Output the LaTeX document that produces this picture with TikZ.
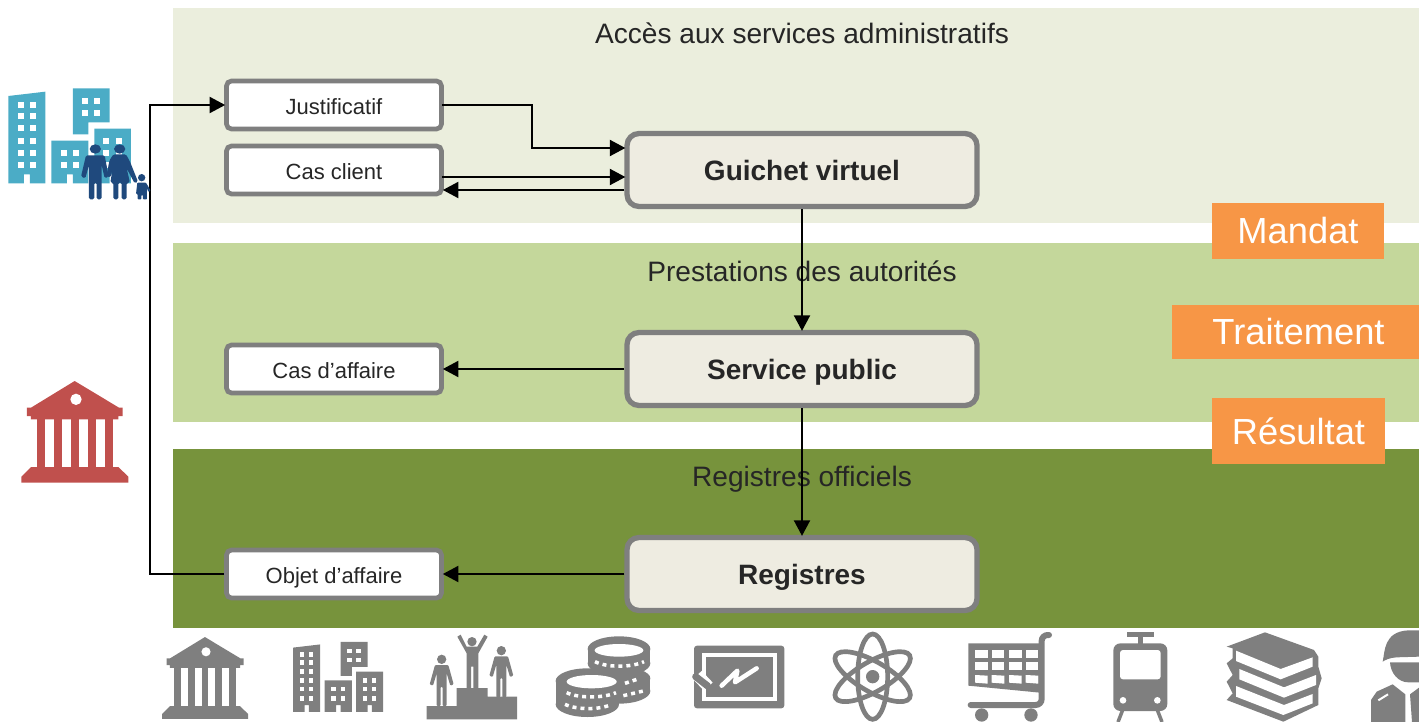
\documentclass[tikz,border=0pt]{standalone}
\usepackage{fontspec}
\setmainfont{Liberation Sans}
\usetikzlibrary{arrows.meta}
\definecolor{bandA}{HTML}{EBEEDD}
\definecolor{bandB}{HTML}{C4D79B}
\definecolor{bandC}{HTML}{77933C}
\definecolor{boxfill}{HTML}{EEECE1}
\definecolor{boxline}{HTML}{7F7F7F}
\definecolor{tagfill}{HTML}{F79646}
\definecolor{txt}{HTML}{262626}
\definecolor{iconblue}{HTML}{4BACC6}
\definecolor{iconnavy}{HTML}{1F497D}
\definecolor{iconred}{HTML}{C0504D}
\definecolor{icongray}{HTML}{7F7F7F}
\tikzset{
band/.style={fill=#1,draw=none},
smallbox/.style={
    draw=boxline, fill=white, line width=4.7pt, rounded corners=5pt,
    minimum width=215pt, minimum height=48pt, text=txt, text height=19pt, text depth=0pt,
    font=\fontsize{22}{25}\selectfont
},
mainbox/.style={
    draw=boxline, fill=boxfill, line width=5.3pt, rounded corners=12pt,
    minimum width=350pt, minimum height=73pt, text=txt, text height=21pt, text depth=0pt,
    font=\fontsize{28}{32}\selectfont\bfseries
},
bandtitle/.style={text=txt, text height=20pt, text depth=0pt, font=\fontsize{28.1}{32}\selectfont},
tagbox/.style={fill=tagfill, text=white, inner sep=0pt, font=\fontsize{36.3}{42}\selectfont},
conn/.style={line width=2pt, shorten >=-1pt, -{Triangle[length=15.5pt,width=16pt]}},
bankicon/.pic={
    \fill[pic actions] (224,33) -- (357,113) -- (368,113) -- (368,138) -- (355,138) -- (355,148)
        -- (93,148) -- (93,138) -- (81,138) -- (81,113) -- (93,113) -- cycle;
    \fill[white] (228,88) circle[radius=17];
    \foreach \cx in {110,161,212,263,314}
        \fill[pic actions] (\cx,147) rectangle ++(25,145);
    \fill[pic actions] (93,291) -- (355,291) -- (385,320) -- (385,338) -- (64,338) -- (64,320) -- cycle;
},
cityicon/.pic={
    \fill[pic actions] (25,78) -- (136,65) -- (136,340) -- (90,340) -- (90,313) -- (72,313) -- (72,340) -- (25,340) -- cycle;
    \fill[pic actions] (219,55) -- (329,55) -- (329,157) -- (265,157) -- (265,193) -- (219,193) -- cycle;
    \fill[pic actions] (154,212) -- (265,212) -- (265,340) -- (219,340) -- (219,313) -- (201,313) -- (201,340) -- (154,340) -- cycle;
    \fill[pic actions] (283,176) -- (393,176) -- (393,340) -- (347,340) -- (347,313) -- (329,313) -- (329,340) -- (283,340) -- cycle;
    \foreach \wx in {53,90} \foreach \wy in {97,130,166,203,239,276}
        \fill[white] (\wx,\wy) rectangle ++(18,18);
    \foreach \wx in {246,283} \foreach \wy in {83,120}
        \fill[white] (\wx,\wy) rectangle ++(18,18);
    \foreach \wx in {182,219} \foreach \wy in {239,276}
        \fill[white] (\wx,\wy) rectangle ++(18,18);
    \foreach \wx in {310,347} \foreach \wy in {203,239,276}
        \fill[white] (\wx,\wy) rectangle ++(18,18);
},
}
\begin{document}
\begin{tikzpicture}[x=1pt,y=-1pt]
\useasboundingbox (0,0) rectangle (1419,722);
% bands
\fill[band=bandA] (173,8) rectangle (1419,223);
\fill[band=bandB] (173,243) rectangle (1419,422);
\fill[band=bandC] (173,449) rectangle (1419,628);
\node[bandtitle] (titleA) at (802,34) {Accès aux services administratifs};
\node[bandtitle] (titleB) at (802,271) {Prestations des autorités};
\node[bandtitle] (titleC) at (802,476) {Registres officiels};
% boxes
\node[smallbox] (justif) at (334,105) {Justificatif};
\node[smallbox] (client) at (334,170) {Cas client};
\node[smallbox] (affaire) at (334,369) {Cas d’affaire};
\node[smallbox] (objet) at (334,574) {Objet d’affaire};
\node[mainbox] (guichet) at (802,170) {Guichet virtuel};
\node[mainbox] (service) at (802,369) {Service public};
\node[mainbox] (registres) at (802,574) {Registres};
% connectors
\draw[conn] ([xshift=-2pt]justif.east) -- (532,105) |- ([yshift=22pt]guichet.west);
\draw[conn] ([xshift=-2pt,yshift=-7pt]client.east) -- ([yshift=-7pt]guichet.west);
\draw[conn] ([yshift=-20pt]guichet.west) -- ([yshift=-20pt]client.east);
\draw[conn] (guichet.south) -- (service.north);
\draw[conn] (service.south) -- (registres.north);
\draw[conn] (service.west) -- (affaire.east);
\draw[conn] (registres.west) -- (objet.east);
\draw[conn] (objet.west) -- (150,574) |- (justif.west);
% tags
\node[tagbox,minimum width=172pt,minimum height=56pt] (mandat) at (1298,231) {Mandat};
\node[tagbox,minimum width=253pt,minimum height=54pt] (traitement) at (1298.5,332) {Traitement};
\node[tagbox,minimum width=173pt,minimum height=66pt] (resultat) at (1298.5,431) {Résultat};
% left icons
\pic[fill=iconblue,scale=1/3] at (0,70) {cityicon};
\begin{scope}[shift={(0,70)},scale=1/3,iconnavy]
\fill (286,237) ellipse[x radius=17,y radius=14];
\fill (359,237) ellipse[x radius=17,y radius=14];
\fill (425,323) circle[radius=11];
\fill[rounded corners=1.5pt] (258,256) -- (314,256) -- (326,320) -- (314,325) -- (305,285) -- (305,388) -- (290,388)
    -- (290,338) -- (283,338) -- (283,388) -- (267,388) -- (267,285) -- (256,325) -- (243,320) -- cycle;
\fill[rounded corners=1.5pt] (340,253) -- (378,253) -- (390,275) -- (414,335) -- (404,340) -- (380,295) -- (390,338)
    -- (380,338) -- (380,388) -- (365,388) -- (365,338) -- (355,338) -- (355,388) -- (340,388) -- (340,338) -- (331,338)
    -- (338,295) -- (331,323) -- (320,318) -- (328,272) -- cycle;
\fill[rounded corners=.8pt] (412,338) -- (438,338) -- (452,362) -- (445,366) -- (441,355) -- (441,388) -- (429,388)
    -- (429,375) -- (424,375) -- (424,388) -- (413,388) -- (413,372) -- (408,372) -- cycle;
\end{scope}
\pic[fill=iconred,scale=1/3] at (0,370) {bankicon};
% bottom icons
\pic[fill=icongray,scale=.268] at (144.9,628.2) {bankicon};
\pic[fill=icongray,scale=.245] at (286.9,628.5) {cityicon};
% podium
\begin{scope}[shift={(150,625)},scale=1/3,icongray]
\fill (830,243) -- (920,243) -- (920,189) -- (1013,189) -- (1013,215) -- (1101,215) -- (1101,283) -- (830,283) -- cycle;
\fill (966,50) circle[radius=14];
\fill (922,35) -- (932,29) -- (950,65) -- (982,65) -- (1003,29) -- (1013,35) -- (985,85) -- (985,189) -- (970,189)
    -- (970,125) -- (963,125) -- (963,189) -- (950,189) -- (950,85) -- cycle;
\foreach \fx/\fy in {875/120,1054/94} {
    \fill (\fx,\fy-17) circle[radius=14];
    \begin{scope}[shift={(\fx,\fy)}]
    \fill[rounded corners=1pt] (-20,0) -- (20,0) -- (36,58) -- (26,62) -- (15,25) -- (15,123) -- (3,123) -- (3,65)
        -- (-3,65) -- (-3,123) -- (-15,123) -- (-15,25) -- (-26,62) -- (-36,58) -- cycle;
    \end{scope}
}
\end{scope}
% coins
\begin{scope}[shift={(540,625)},scale=1/3,icongray]
\fill (237,160) ellipse[x radius=94,y radius=35];
\fill (143,160) rectangle (331,198);
\fill (237,198) ellipse[x radius=94,y radius=38];
\fill (237,72) ellipse[x radius=94,y radius=38];
\fill (143,72) rectangle (331,115);
\fill (237,115) ellipse[x radius=94,y radius=38];
\fill[white] (237,76) ellipse[x radius=73,y radius=19];
\fill (142,168) ellipse[x radius=95,y radius=38];
\fill (47,168) rectangle (237,238);
\fill (142,238) ellipse[x radius=95,y radius=38];
\fill[white] (155,170) ellipse[x radius=75,y radius=20];
\draw[white,line width=3.5pt,dash pattern=on 4pt off 4pt] (165,110) .. controls (200,128) and (275,128) .. (312,110);
\draw[white,line width=3.5pt,dash pattern=on 4pt off 4pt] (80,203) .. controls (115,220) and (190,220) .. (228,203);
\draw[white,line width=3.5pt,dash pattern=on 4pt off 4pt] (75,238) .. controls (110,255) and (180,255) .. (215,238);
\draw[white,line width=3.5pt,dash pattern=on 4pt off 4pt] (255,175) -- (300,160);
\draw[white,line width=3.5pt,dash pattern=on 4pt off 4pt] (250,212) -- (310,198);
\end{scope}
% board
\begin{scope}[shift={(540,625)},scale=1/3,icongray]
\fill[rounded corners=3pt] (462,62) rectangle (733,250);
\draw[white,line width=4.3pt] (491,89) rectangle (705,222);
\draw[white,line width=12pt] (472,150) -- (505,185);
\draw[icongray,line width=7pt,line cap=round] (467,155) -- (503,183);
\draw[white,line width=4.5pt,line cap=round,line join=round] (545,182) -- (592,137) -- (585,172) -- (650,130);
\end{scope}
% atom
\begin{scope}[shift={(540,625)},scale=1/3,icongray]
\fill (998,155) circle[radius=20];
\draw[line width=4.7pt] (998,155) ellipse[x radius=45,y radius=128];
\draw[line width=4.7pt,rotate around={60:(998,155)}] (998,155) ellipse[x radius=45,y radius=128];
\draw[line width=4.7pt,rotate around={-60:(998,155)}] (998,155) ellipse[x radius=45,y radius=128];
\end{scope}
% cart
\begin{scope}[shift={(950,625)},scale=1/3,icongray]
\fill (55,55) -- (270,55) -- (270,203) -- (55,182) -- cycle;
\foreach \gx in {75,125,177,227} \foreach \gy in {75,112}
    \fill[white] (\gx,\gy) rectangle ++(38,23);
\foreach \gx in {75,125,177,227}
    \fill[white] (\gx,150) -- ++(38,2) -- ++(0,24) -- ++(-38,-3) -- cycle;
\draw[line width=6pt,line cap=round,rounded corners=6pt] (297,30) -- (275,30) -- (275,240) -- (62,240);
\fill (95,270) circle[radius=20];
\fill (243,270) circle[radius=20];
\end{scope}
% tram
\begin{scope}[shift={(950,625)},scale=1/3,icongray]
\fill (530,20) rectangle (612,35);
\fill (565,35) rectangle (580,58);
\fill[rounded corners=7pt] (490,55) rectangle (652,258);
\fill[white,rounded corners=3pt] (510,75) rectangle (632,163);
\fill[white] (519,226) circle[radius=10];
\fill[white] (622,226) circle[radius=10];
\draw[line width=3.5pt] (518,255) -- (504,291);
\draw[line width=3.5pt] (622,255) -- (636,291);
\end{scope}
% books
\begin{scope}[shift={(950,625)},scale=1/3,icongray]
\fill (830,65) -- (945,22) -- (1092,75) -- (1105,95) -- (1105,125) -- (1115,160) -- (1105,190) -- (1105,240)
    -- (1000,290) -- (830,225) -- (848,205) -- (830,170) -- (848,150) -- (830,115) -- (848,100) -- (848,70) -- cycle;
\fill[white] (858,77) -- (992,132) -- (1088,97) -- (1088,125) -- (992,163) -- (858,108) -- cycle;
\fill[white] (868,132) -- (1002,187) -- (1098,150) -- (1098,180) -- (1002,218) -- (868,163) -- cycle;
\fill[white] (858,183) -- (1002,240) -- (1088,207) -- (1088,235) -- (1000,270) -- (858,215) -- cycle;
\end{scope}
% soldier
\begin{scope}[shift={(950,625)},scale=1/3,icongray]
\fill (1298,110) .. controls (1305,80) and (1300,20) .. (1375,16) -- (1407,16) -- (1407,95) -- (1340,97) .. controls (1320,98) and (1305,105) .. (1298,110) -- cycle;
\fill (1320,112) -- (1407,112) -- (1407,172) -- (1375,172) .. controls (1345,172) and (1322,145) .. (1320,112) -- cycle;
\fill (1263,225) -- (1280,200) -- (1328,178) -- (1366,208) -- (1366,291) -- (1263,291) -- cycle;
\fill (1380,208) -- (1407,188) -- (1407,291) -- (1386,291) -- cycle;
\draw[white,line width=2pt] (1285,226) -- (1314,208);
\end{scope}
\end{tikzpicture}
\end{document}
